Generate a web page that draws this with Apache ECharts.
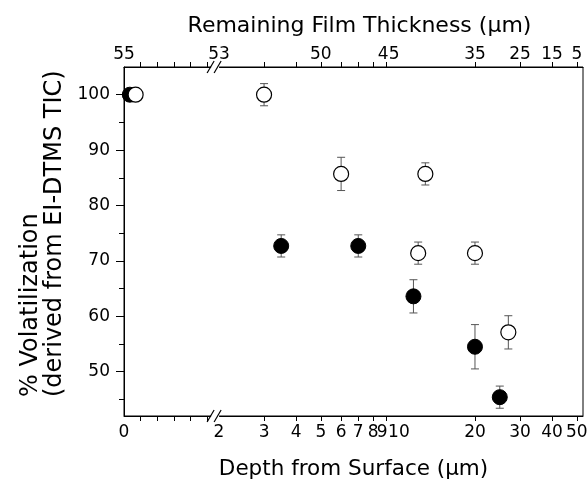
<!DOCTYPE html>
<html><head><meta charset="utf-8">
<script src="https://cdn.jsdelivr.net/npm/echarts@6/dist/echarts.min.js"></script>
<style>html,body{margin:0;padding:0;background:#fff}#c{width:587px;height:481px}</style>
</head><body><div id="c"></div>
<script>
// ---- data ----
const filledDepth = [0.07, 3.5, 7, 11.5, 20, 25];
const filledValue = [100, 72.7, 72.7, 63.6, 54.5, 45.4];
const filledErr   = [0, 2, 2, 3, 4, 2];
const openDepth = [0.14, 3, 6, 12.8, 12, 20, 27];
const openValue = [100, 100, 85.7, 85.7, 71.4, 71.4, 57.1];
const openErr   = [0, 2, 3, 2, 2, 2, 3];
const bottomLabelDepths = [0, 2, 3, 4, 5, 6, 7, 8, 9, 10, 20, 30, 40, 50];
const bottomLabels = ['0','2','3','4','5','6','7','8','9','10','20','30','40','50'];
const tickDepths = [0.2, 0.4, 0.6, 0.8, 1.0, 3, 4, 5, 6, 7, 8, 9, 20, 30, 40, 50];
const topLabelDepths = [0, 2, 5, 9.2, 20, 30, 40, 50];
const topLabels = ['55','53','50','45','35','25','15','5'];
const yLabels = [50, 60, 70, 80, 90, 100];
const yMinor = [45, 55, 65, 75, 85, 95];

// ---- broken axis scale: linear 0..1.1, then log from 2 ----
const LIN_END = 1.1, LOG_START = 2, LIN_K = 0.324, LOG_U0 = 0.371, U_MAX = 1.793;
function u(x) { return x <= LIN_END ? x * LIN_K : LOG_U0 + Math.log10(x / LOG_START); }
const key = v => v.toFixed(5);
const bottomMap = {}; bottomLabelDepths.forEach((d, i) => bottomMap[key(u(d))] = bottomLabels[i]);
const topMap = {}; topLabelDepths.forEach((d, i) => topMap[key(u(d))] = topLabels[i]);

const FONT = 'DejaVu Sans';
const TXT = '#000';
const chart = echarts.init(document.getElementById('c'), null, {renderer: 'canvas'});

function errData(ds, vs, es) {
  const out = [];
  ds.forEach((d, i) => { if (es[i] > 0) out.push([u(d), vs[i] - es[i], vs[i] + es[i]]); });
  return out;
}
function errRender(params, api) {
  const lo = api.coord([api.value(0), api.value(1)]);
  const hi = api.coord([api.value(0), api.value(2)]);
  const w = 4;
  const st = {stroke: '#555', lineWidth: 1};
  return {type: 'group', children: [
    {type: 'line', shape: {x1: lo[0], y1: lo[1], x2: hi[0], y2: hi[1]}, style: st},
    {type: 'line', shape: {x1: lo[0] - w, y1: lo[1], x2: lo[0] + w, y2: lo[1]}, style: st},
    {type: 'line', shape: {x1: hi[0] - w, y1: hi[1], x2: hi[0] + w, y2: hi[1]}, style: st}
  ]};
}

const axisCommon = {
  type: 'value', min: 0, max: U_MAX,
  axisLine: {show: true, lineStyle: {color: '#000', width: 1}},
  splitLine: {show: false},
  axisTick: {show: true, inside: false, length: 5, lineStyle: {color: '#000'}, customValues: tickDepths.map(u)},
};

chart.setOption({
  animation: false,
  backgroundColor: '#fff',
  grid: {left: 124, right: 4, top: 67, bottom: 65, show: true, borderColor: '#000', borderWidth: 1,
         containLabel: false, outerBoundsMode: 'none'},
  xAxis: [
    Object.assign({}, axisCommon, {
      position: 'bottom',
      name: 'Depth from Surface (\u03bcm)', nameLocation: 'middle', nameGap: 42,
      nameTextStyle: {fontFamily: FONT, fontSize: 21.5, color: TXT},
      axisLabel: {show: true, customValues: bottomLabelDepths.map(u), margin: 8,
        fontFamily: FONT, fontSize: 17, color: TXT,
        formatter: v => { const t = bottomMap[key(v)]; if (t === '9') return '{l|9}'; if (t === '10') return '{r|10}'; return t || ''; },
        rich: {l: {fontFamily: FONT, fontSize: 17, color: TXT, padding: [0, 8, 0, 0]},
               r: {fontFamily: FONT, fontSize: 17, color: TXT, padding: [0, 0, 0, 2]}}}
    }),
    Object.assign({}, axisCommon, {
      position: 'top',
      name: 'Remaining Film Thickness (\u03bcm)', nameLocation: 'middle', nameGap: 30,
      nameTextStyle: {fontFamily: FONT, fontSize: 22, color: TXT, padding: [0, 0, 0, 12]},
      axisLabel: {show: true, customValues: topLabelDepths.map(u), margin: 4,
        fontFamily: FONT, fontSize: 17, color: TXT,
        formatter: v => topMap[key(v)] || ''}
    })
  ],
  yAxis: [
    {type: 'value', min: 42, max: 105, position: 'left',
     axisLine: {show: true, lineStyle: {color: '#000'}}, splitLine: {show: false},
     axisTick: {show: true, length: 8, customValues: yLabels, lineStyle: {color: '#000'}},
     axisLabel: {customValues: yLabels, margin: 14, fontFamily: FONT, fontSize: 17, color: TXT}},
    {type: 'value', min: 42, max: 105, position: 'left', offset: 0,
     axisLine: {show: false}, splitLine: {show: false},
     axisTick: {show: true, length: 5, customValues: yMinor, lineStyle: {color: '#000'}},
     axisLabel: {show: false}}
  ],
  series: [
    {type: 'custom', name: 'errFilled', renderItem: errRender, data: errData(filledDepth, filledValue, filledErr), z: 1, silent: true},
    {type: 'custom', name: 'errOpen', renderItem: errRender, data: errData(openDepth, openValue, openErr), z: 1, silent: true},
    {type: 'scatter', name: 'filled', symbol: 'circle', symbolSize: 15, z: 2,
     itemStyle: {color: '#000', borderColor: '#000', borderWidth: 1, opacity: 1},
     data: filledDepth.map((d, i) => [u(d), filledValue[i]])},
    {type: 'scatter', name: 'open', symbol: 'circle', symbolSize: 15, z: 3,
     itemStyle: {color: '#fff', borderColor: '#000', borderWidth: 1.2, opacity: 1},
     data: openDepth.map((d, i) => [u(d), openValue[i]])}
  ]
});

// y-axis title (two lines, reading upward) and axis-break marks
const bx = chart.convertToPixel({xAxisIndex: 0}, (u(LIN_END) + u(LOG_START)) / 2);
const yTop = chart.convertToPixel({yAxisIndex: 0}, 105);
const yBot = chart.convertToPixel({yAxisIndex: 0}, 42);
function breakMark(y) {
  return [
    {type: 'rect', shape: {x: bx - 6, y: y - 2, width: 8, height: 4}, style: {fill: '#fff'}, z: 100},
    {type: 'line', shape: {x1: bx - 10, y1: y + 6, x2: bx - 3, y2: y - 6}, style: {stroke: '#000', lineWidth: 1.2}, z: 101},
    {type: 'line', shape: {x1: bx - 3, y1: y + 6, x2: bx + 4, y2: y - 6}, style: {stroke: '#000', lineWidth: 1.2}, z: 101}
  ];
}
chart.setOption({
  graphic: [
    {type: 'text', x: 31, y: 397, rotation: Math.PI / 2, z: 100,
     style: {text: '% Volatilization', font: '24px "DejaVu Sans"', fill: TXT, textAlign: 'left', textVerticalAlign: 'middle'}},
    {type: 'text', x: 55, y: 397, rotation: Math.PI / 2, z: 100,
     style: {text: '(derived from EI-DTMS TIC)', font: '24px "DejaVu Sans"', fill: TXT, textAlign: 'left', textVerticalAlign: 'middle'}}
  ].concat(breakMark(yTop), breakMark(yBot))
});
</script></body></html>
